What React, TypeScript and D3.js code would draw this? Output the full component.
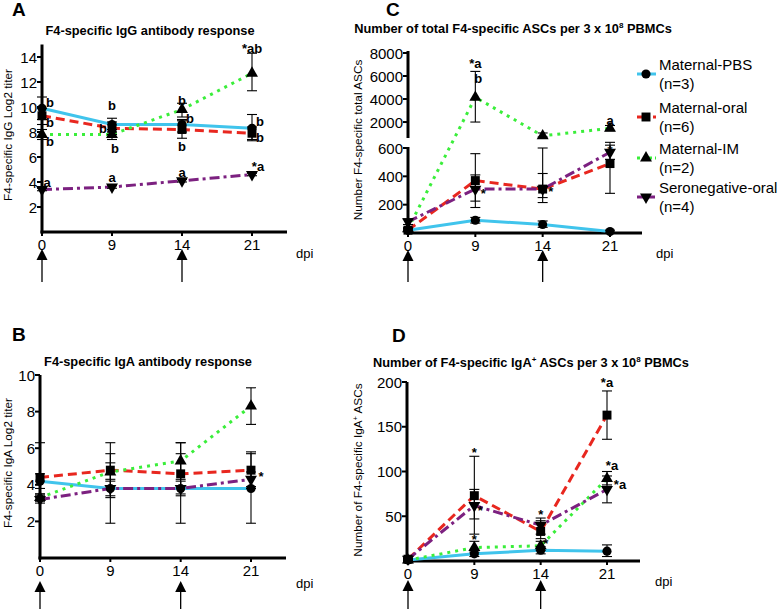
import React from "react";
import * as d3 from "d3";

const DAYS = ["0", "9", "14", "21"];
const SERIES = ["Maternal-PBS", "Maternal-oral", "Maternal-IM", "Seronegative-oral"];
const SERIES_N = ["(n=3)", "(n=6)", "(n=2)", "(n=4)"];

// Panel A: IgG Log2 titer
const A_PBS = [9.9, 8.6, 8.6, 8.3];
const A_PBS_LO = [9.0, 8.0, 8.0, 7.3];
const A_PBS_HI = [10.8, 9.1, 9.0, 9.4];
const A_ORAL = [9.3, 8.3, 8.2, 7.9];
const A_ORAL_LO = [8.6, 7.8, 7.5, 7.4];
const A_ORAL_HI = [9.9, 8.8, 8.9, 8.4];
const A_IM = [7.8, 7.8, 9.8, 12.7];
const A_IM_LO = [7.4, 7.4, 9.2, 11.3];
const A_IM_HI = [8.2, 8.2, 10.3, 14.3];
const A_SERO = [3.4, 3.6, 4.1, 4.6];
const A_SERO_LO = [3.3, 3.5, 4.0, 4.5];
const A_SERO_HI = [3.5, 3.7, 4.2, 4.7];
const A_TICKS = [2, 4, 6, 8, 10, 12, 14];

// Panel B: IgA Log2 titer
const B_PBS = [4.2, 3.8, 3.8, 3.8];
const B_PBS_LO = [3.8, 1.9, 1.9, 1.9];
const B_PBS_HI = [4.6, 5.7, 5.7, 5.7];
const B_ORAL = [4.4, 4.8, 4.6, 4.8];
const B_ORAL_LO = [3.5, 3.3, 3.5, 3.8];
const B_ORAL_HI = [6.3, 6.3, 6.3, 5.8];
const B_IM = [3.3, 4.7, 5.3, 8.3];
const B_IM_LO = [3.1, 4.3, 4.3, 7.3];
const B_IM_HI = [3.5, 5.2, 6.3, 9.3];
const B_SERO = [3.2, 3.8, 3.8, 4.3];
const B_SERO_LO = [3.0, 3.4, 3.4, 3.9];
const B_SERO_HI = [3.4, 4.2, 4.2, 4.7];
const B_TICKS = [2, 4, 6, 8, 10];

// Panel C: total ASCs
const C_PBS = [20, 90, 60, 10];
const C_PBS_LO = [10, 70, 40, 0];
const C_PBS_HI = [30, 110, 85, 20];
const C_ORAL = [20, 370, 310, 490];
const C_ORAL_LO = [10, 180, 215, 280];
const C_ORAL_HI = [30, 560, 600, 640];
const C_IM = [30, 4150, 800, 1450];
const C_IM_LO = [20, 2000, 700, 1250];
const C_IM_HI = [40, 6400, 1050, 1700];
const C_SERO = [80, 310, 310, 570];
const C_SERO_LO = [60, 225, 250, 520];
const C_SERO_HI = [100, 410, 420, 620];
const C_TICKS_LOW = [200, 400, 600];
const C_TICKS_HIGH = [2000, 4000, 6000, 8000];

// Panel D: IgA+ ASCs
const D_PBS = [1, 8, 12, 11];
const D_PBS_LO = [0, 5, 8, 5];
const D_PBS_HI = [2, 12, 16, 18];
const D_ORAL = [2, 73, 33, 163];
const D_ORAL_LO = [0, 30, 25, 136];
const D_ORAL_HI = [3, 117, 45, 190];
const D_IM = [1, 15, 17, 92];
const D_IM_LO = [0, 10, 12, 85];
const D_IM_HI = [2, 22, 22, 100];
const D_SERO = [2, 62, 40, 80];
const D_SERO_LO = [0, 47, 30, 65];
const D_SERO_HI = [3, 80, 48, 95];
const D_TICKS = [50, 100, 150, 200];

// annotations: [dayIndex, value, dx, text]
const A_NOTES: [number, number, number, string][] = [
  [0, 10.4, 8, "b"], [0, 8.8, 8, "b"], [0, 7.3, 8, "b"], [0, 4.0, 5, "a"],
  [1, 10.2, 0, "b"], [1, 8.3, -9, "b"], [1, 6.7, 3, "b"], [1, 4.4, 0, "a"],
  [2, 10.6, 0, "b"], [2, 9.1, 8, "b"], [2, 6.9, 0, "b"], [2, 4.8, 0, "a"],
  [3, 14.7, 0, "*ab"], [3, 8.9, 8, "b"], [3, 7.6, 8, "b"], [3, 5.3, 6, "*a"],
];
const B_NOTES: [number, number, number, string][] = [[3, 4.5, 10, "*"]];
const C_NOTES: [number, number, number, string][] = [
  [1, 7135, 0, "*a"], [1, 5830, 3, "b"], [1, 282, 8, "*"], [2, 296, 8, "*"],
  [3, 2178, 0, "a"], [3, 586, 0, "*"],
];
const D_NOTES: [number, number, number, string][] = [
  [1, 122, 0, "*"], [1, 57, 6, "*"], [1, 25, 0, "*"], [2, 52, 0, "*"], [2, 20, 5, "*"],
  [3, 200, 0, "*a"], [3, 107, 5, "*a"], [3, 86, 13, "*a"],
];

const COLORS = ["#40c4ec", "#e8271f", "#3aee3a", "#7c2180"];
const DASHES = ["none", "9,5", "3,5", "10,4,3,4"];
const SYMBOLS = [d3.symbolCircle, d3.symbolSquare, d3.symbolTriangle, d3.symbolTriangle];
const SYM_SIZE = [66, 80, 62, 62];
const FONT = "'Liberation Sans', Arial, sans-serif";

type Ser = { v: number[]; lo: number[]; hi: number[] };

function Marker({ si, x, y }: { si: number; x: number; y: number }) {
  const p = d3.symbol().type(SYMBOLS[si]).size(SYM_SIZE[si])() as string;
  const rot = si === 3 ? " rotate(180)" : "";
  return <path d={p} transform={`translate(${x},${y})${rot}`} fill="#000" />;
}

function Panel(props: {
  letter: string; letterX: number; letterY: number;
  title: React.ReactNode; titleX: number; titleY: number;
  ylabel: React.ReactNode; ylabelX: number; ylabelY: number;
  xr: [number, number]; axisX: number; axisEnd: number; axisY: number;
  ySegs: [number, number][];
  yf: (v: number) => number; ticks: number[];
  series: Ser[]; notes: [number, number, number, string][];
  arrowTop: number; arrowBottom: number; dpiX: number; dpiY: number;
}) {
  const x = d3.scalePoint<string>().domain(DAYS).range(props.xr);
  const yf = props.yf;
  const line = d3.line<number>().x((_, i) => x(DAYS[i]) as number).y((d) => yf(d));
  return (
    <g fontFamily={FONT}>
      <text x={props.letterX} y={props.letterY} fontSize={19} fontWeight="bold">{props.letter}</text>
      <text x={props.titleX} y={props.titleY} fontSize={12.8} fontWeight="bold" textAnchor="middle">{props.title}</text>
      <text transform={`translate(${props.ylabelX},${props.ylabelY}) rotate(-90)`} fontSize={11.8} textAnchor="middle">{props.ylabel}</text>
      {props.ySegs.map((s, i) => (
        <line key={i} x1={props.axisX} x2={props.axisX} y1={s[0]} y2={s[1]} stroke="#000" strokeWidth={3} />
      ))}
      {props.ticks.map((t) => (
        <g key={t}>
          <line x1={props.axisX - 5} x2={props.axisX} y1={yf(t)} y2={yf(t)} stroke="#000" strokeWidth={2} />
          <text x={props.axisX - 5} y={yf(t) + 5.5} fontSize={15} textAnchor="end">{t}</text>
        </g>
      ))}
      <line x1={props.axisX - 1.5} x2={props.axisEnd} y1={props.axisY} y2={props.axisY} stroke="#000" strokeWidth={3} />
      {DAYS.map((d) => (
        <g key={d}>
          <line x1={x(d)} x2={x(d)} y1={props.axisY} y2={props.axisY + 4} stroke="#000" strokeWidth={2} />
          <text x={x(d)} y={props.axisY + 18} fontSize={15} textAnchor="middle">{d}</text>
        </g>
      ))}
      <text x={props.dpiX} y={props.dpiY} fontSize={13}>dpi</text>
      {["0", "14"].map((d) => (
        <g key={d}>
          <line x1={x(d)} x2={x(d)} y1={props.arrowTop + 8} y2={props.arrowBottom} stroke="#000" strokeWidth={1.3} />
          <path d={`M${x(d)},${props.arrowTop} l-5.5,11 l11,0 z`} fill="#000" />
        </g>
      ))}
      {props.series.map((s, si) => (
        <path key={"l" + si} d={line(s.v) as string} fill="none" stroke={COLORS[si]} strokeWidth={3}
          strokeDasharray={DASHES[si]} />
      ))}
      {props.series.map((s, si) =>
        s.v.map((_, i) => {
          const cx = x(DAYS[i]) as number;
          const y1 = yf(s.lo[i]);
          const y2 = yf(s.hi[i]);
          return (
            <g key={"e" + si + i} stroke="#000" strokeWidth={1.1}>
              <line x1={cx} x2={cx} y1={y1} y2={y2} />
              <line x1={cx - 5} x2={cx + 5} y1={y1} y2={y1} />
              <line x1={cx - 5} x2={cx + 5} y1={y2} y2={y2} />
            </g>
          );
        })
      )}
      {props.series.map((s, si) =>
        s.v.map((v, i) => <Marker key={"m" + si + i} si={si} x={x(DAYS[i]) as number} y={yf(v)} />)
      )}
      {props.notes.map((n, i) => (
        <text key={"n" + i} x={(x(DAYS[n[0]]) as number) + n[2]} y={yf(n[1]) + 5} fontSize={13}
          fontWeight="bold" textAnchor="middle">{n[3]}</text>
      ))}
    </g>
  );
}

export default function App() {
  const yA = d3.scaleLinear().domain([0, 15]).range([232, 44.5]);
  const yB = d3.scaleLinear().domain([0, 10]).range([558, 375]);
  const yCl = d3.scaleLinear().domain([0, 600]).range([233, 148]);
  const yCh = d3.scaleLinear().domain([700, 8000]).range([137, 53]);
  const yC = (v: number) => (v <= 660 ? yCl(v) : yCh(v));
  const yD = d3.scaleLinear().domain([0, 200]).range([561, 382]);

  const mk = (v: number[], lo: number[], hi: number[]): Ser => ({ v, lo, hi });
  const sA = [mk(A_PBS, A_PBS_LO, A_PBS_HI), mk(A_ORAL, A_ORAL_LO, A_ORAL_HI), mk(A_IM, A_IM_LO, A_IM_HI), mk(A_SERO, A_SERO_LO, A_SERO_HI)];
  const sB = [mk(B_PBS, B_PBS_LO, B_PBS_HI), mk(B_ORAL, B_ORAL_LO, B_ORAL_HI), mk(B_IM, B_IM_LO, B_IM_HI), mk(B_SERO, B_SERO_LO, B_SERO_HI)];
  const sC = [mk(C_PBS, C_PBS_LO, C_PBS_HI), mk(C_ORAL, C_ORAL_LO, C_ORAL_HI), mk(C_IM, C_IM_LO, C_IM_HI), mk(C_SERO, C_SERO_LO, C_SERO_HI)];
  const sD = [mk(D_PBS, D_PBS_LO, D_PBS_HI), mk(D_ORAL, D_ORAL_LO, D_ORAL_HI), mk(D_IM, D_IM_LO, D_IM_HI), mk(D_SERO, D_SERO_LO, D_SERO_HI)];

  const legendY = [74, 117, 158, 197];

  return (
    <svg width={779} height={609} style={{ position: "absolute", left: 0, top: 0, background: "#fff" }}>
      <rect width={779} height={609} fill="#fff" />
      <Panel letter="A" letterX={12} letterY={16}
        title="F4-specific IgG antibody response" titleX={150} titleY={35}
        ylabel="F4-specific IgG Log2 titer" ylabelX={12} ylabelY={135}
        xr={[42, 252]} axisX={42} axisEnd={287} axisY={232}
        ySegs={[[44.5, 233.5]]} yf={yA} ticks={A_TICKS} series={sA} notes={A_NOTES}
        arrowTop={249} arrowBottom={282} dpiX={296} dpiY={258} />
      <Panel letter="B" letterX={12} letterY={341}
        title="F4-specific IgA antibody response" titleX={148} titleY={366}
        ylabel="F4-specific IgA Log2 titer" ylabelX={12} ylabelY={463}
        xr={[40, 251]} axisX={40} axisEnd={286} axisY={558}
        ySegs={[[375, 559.5]]} yf={yB} ticks={B_TICKS} series={sB} notes={B_NOTES}
        arrowTop={581} arrowBottom={612} dpiX={296} dpiY={588} />
      <Panel letter="C" letterX={386} letterY={16}
        title={<>Number of total F4-specific ASCs per 3 x 10<tspan fontSize={8} dy={-5}>8</tspan><tspan dy={5}> PBMCs</tspan></>}
        titleX={513} titleY={33}
        ylabel="Number F4-specific total ASCs" ylabelX={362} ylabelY={140}
        xr={[408, 610]} axisX={408} axisEnd={642} axisY={233}
        ySegs={[[147, 234.5], [51, 138]]} yf={yC} ticks={[...C_TICKS_LOW, ...C_TICKS_HIGH]} series={sC} notes={C_NOTES}
        arrowTop={250} arrowBottom={282} dpiX={656} dpiY={258} />
      <Panel letter="D" letterX={392} letterY={342}
        title={<>Number of F4-specific IgA<tspan fontSize={8} dy={-5}>+</tspan><tspan dy={5}> ASCs per 3 x 10</tspan><tspan fontSize={8} dy={-5}>8</tspan><tspan dy={5}> PBMCs</tspan></>}
        titleX={531} titleY={367}
        ylabel={<>Number of F4-specific IgA<tspan fontSize={7} dy={-4}>+</tspan><tspan dy={4}> ASCs</tspan></>}
        ylabelX={362} ylabelY={470}
        xr={[408, 607]} axisX={407} axisEnd={640} axisY={561}
        ySegs={[[382, 562.5]]} yf={yD} ticks={D_TICKS} series={sD} notes={D_NOTES}
        arrowTop={580} arrowBottom={612} dpiX={655} dpiY={586} />
      <g fontFamily={FONT} fontSize={15}>
        {SERIES.map((s, i) => (
          <g key={s}>
            <line x1={637} x2={656} y1={legendY[i]} y2={legendY[i]} stroke={COLORS[i]} strokeWidth={3}
              strokeDasharray={DASHES[i] === "none" ? "none" : i === 2 ? "3,3" : i === 3 ? "6,2,2,2" : "5,3"} />
            <Marker si={i} x={646} y={legendY[i]} />
            <text x={659} y={legendY[i] - 4}>{s}</text>
            <text x={659} y={legendY[i] + 15}>{SERIES_N[i]}</text>
          </g>
        ))}
      </g>
    </svg>
  );
}
